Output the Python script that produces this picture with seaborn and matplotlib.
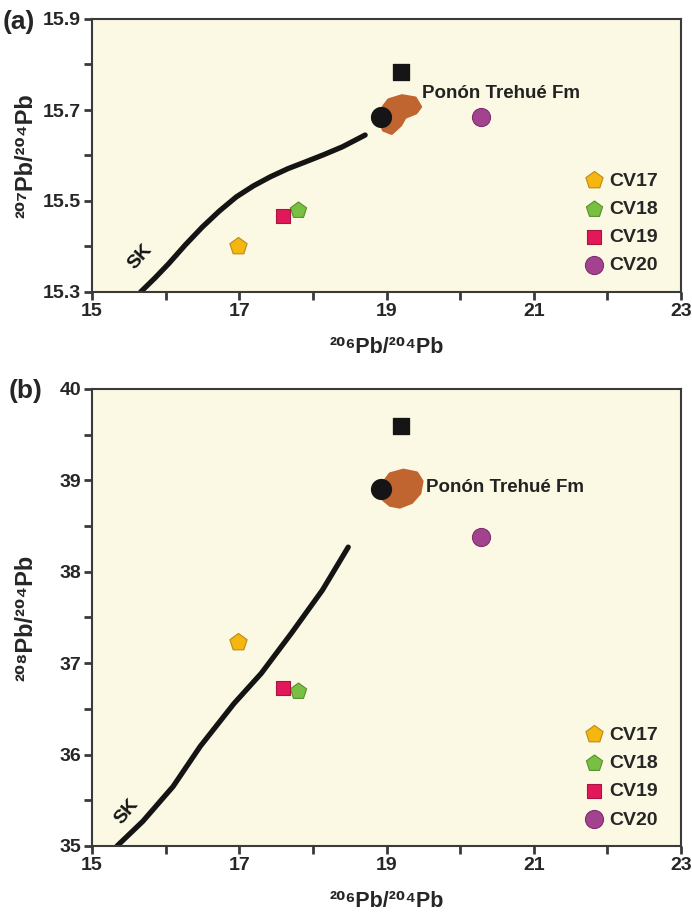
import numpy as np
import pandas as pd
import seaborn as sns
import matplotlib.pyplot as plt
from matplotlib.patches import Polygon
from matplotlib.ticker import FixedLocator, FormatStrFormatter

#sample names and their lead isotope ratios
SAMPLES = ['CV17', 'CV18', 'CV19', 'CV20']
PB206 = [16.98, 17.80, 17.60, 20.28]
PB207 = [15.400, 15.481, 15.466, 15.685]
PB208 = [37.23, 36.70, 36.73, 38.38]

#reference points (black square and black circle, not in legend)
SQ_206 = [19.20]
SQ_207 = [15.784]
SQ_208 = [39.59]
CIRC_206 = [18.92]
CIRC_207 = [15.685]
CIRC_208 = [38.91]

#Stacey & Kramers growth curve (SK)
SK_A_X = [15.66, 15.85, 16.04, 16.27, 16.50, 16.73, 16.96, 17.19, 17.42, 17.66, 17.90, 18.15, 18.40, 18.71]
SK_A_Y = [15.300, 15.330, 15.362, 15.404, 15.443, 15.478, 15.509, 15.533, 15.553, 15.571, 15.586, 15.602, 15.619, 15.645]
SK_B_X = [15.34, 15.69, 16.10, 16.47, 16.93, 17.30, 17.71, 18.13, 18.48]
SK_B_Y = [35.00, 35.27, 35.65, 36.09, 36.56, 36.89, 37.33, 37.80, 38.27]

#Ponón Trehué Fm field outlines
FIELD_A_X = [19.03, 19.21, 19.39, 19.46, 19.40, 19.25, 19.19, 19.07, 18.96, 18.91, 18.96]
FIELD_A_Y = [15.722, 15.731, 15.726, 15.707, 15.694, 15.684, 15.667, 15.649, 15.656, 15.682, 15.707]
FIELD_B_X = [18.96, 18.94, 19.05, 19.23, 19.41, 19.48, 19.45, 19.34, 19.18, 19.05]
FIELD_B_Y = [38.79, 38.95, 39.07, 39.11, 39.08, 38.99, 38.86, 38.76, 38.71, 38.73]

#axis ticks
X_MAJOR = [15, 17, 19, 21, 23]
X_MINOR = [16, 18, 20, 22]
YA_MAJOR = [15.3, 15.5, 15.7, 15.9]
YA_MINOR = [15.4, 15.6, 15.8]
YB_MAJOR = [35, 36, 37, 38, 39, 40]
YB_MINOR = [35.5, 36.5, 37.5, 38.5, 39.5]

#marker styling per sample
MARKERS = {'CV17': 'p', 'CV18': 'p', 'CV19': 's', 'CV20': 'o'}
SIZES = {'CV17': 170, 'CV18': 150, 'CV19': 95, 'CV20': 170}
COLORS = {'CV17': '#F5B70F', 'CV18': '#79BF42', 'CV19': '#E1195A', 'CV20': '#A3438F'}
EDGES = {'CV17': '#B98A1A', 'CV18': '#56902E', 'CV19': '#A8153F', 'CV20': '#7E2F6E'}

BG = '#FBF9E3'
FIELD_COLOR = '#C0652F'

sns.set_style('ticks')
plt.rcParams['font.family'] = ['Liberation Sans', 'DejaVu Sans']
plt.rcParams['font.weight'] = 'bold'
plt.rcParams['axes.labelweight'] = 'bold'


def draw_panel(ax, yvals, sq_y, circ_y, sk_x, sk_y, fx, fy, sk_text, label_xy, ylim,
               ymaj, ymin, yfmt, ylabel):
    ax.set_facecolor(BG)

    #growth curve
    sns.lineplot(x=sk_x, y=sk_y, sort=False, estimator=None, color='#141414',
                 linewidth=3.8, ax=ax, zorder=2)

    #formation field
    ax.add_patch(Polygon(np.column_stack([fx, fy]), closed=True, facecolor=FIELD_COLOR,
                         edgecolor=FIELD_COLOR, linewidth=2.5, joinstyle='round', zorder=3))

    #reference points
    sns.scatterplot(x=SQ_206, y=sq_y, marker='s', s=140, color='#151515', edgecolor='#151515',
                    ax=ax, zorder=4)
    sns.scatterplot(x=CIRC_206, y=circ_y, marker='o', s=200, color='#151515', edgecolor='#151515',
                    ax=ax, zorder=4)

    #samples
    for i, name in enumerate(SAMPLES):
        sns.scatterplot(x=[PB206[i]], y=[yvals[i]], marker=MARKERS[name], s=SIZES[name],
                        color=COLORS[name], edgecolor=EDGES[name], linewidth=0.8,
                        label=name, ax=ax, zorder=5)

    ax.text(label_xy[0], label_xy[1], 'Ponón Trehué Fm', fontsize=13.5, color='#222222',
            va='center', ha='left', zorder=6)
    ax.text(sk_text[0], sk_text[1], 'SK', fontsize=14, color='#141414', rotation=sk_text[2],
            ha='center', va='center', zorder=6)

    ax.set_xlim(15, 23)
    ax.set_ylim(*ylim)
    ax.xaxis.set_major_locator(FixedLocator(X_MAJOR))
    ax.xaxis.set_minor_locator(FixedLocator(X_MINOR))
    ax.yaxis.set_major_locator(FixedLocator(ymaj))
    ax.yaxis.set_minor_locator(FixedLocator(ymin))
    ax.yaxis.set_major_formatter(FormatStrFormatter(yfmt))
    ax.tick_params(which='both', direction='out', length=6, width=2, color='#3a3a3a',
                   labelsize=14, pad=2)

    for sp in ax.spines.values():
        sp.set_visible(True)
        sp.set_color('#3a3a3a')
        sp.set_linewidth(1.5)

    ax.set_xlabel('²⁰⁶Pb/²⁰⁴Pb', fontsize=15.5)
    ax.set_ylabel(ylabel, fontsize=17)

    ax.legend(loc='lower right', bbox_to_anchor=(1 - 5 / 589, 0), frameon=False, fontsize=14,
              handletextpad=0.2, labelspacing=0.55, borderaxespad=0.5, handlelength=1.2)


fig = plt.figure(figsize=(6.92, 9.21), dpi=100)
fig.patch.set_facecolor('white')

ax_a = fig.add_axes([92 / 692, 1 - 292 / 921, 589 / 692, 273 / 921])
ax_b = fig.add_axes([92 / 692, 1 - 846 / 921, 589 / 692, 457 / 921])

draw_panel(ax_a, PB207, SQ_207, CIRC_207, SK_A_X, SK_A_Y, FIELD_A_X, FIELD_A_Y,
           (15.66, 15.378, 48), (19.48, 15.737), (15.3, 15.9), YA_MAJOR, YA_MINOR, '%.1f',
           '²⁰⁷Pb/²⁰⁴Pb')
draw_panel(ax_b, PB208, SQ_208, CIRC_208, SK_B_X, SK_B_Y, FIELD_B_X, FIELD_B_Y,
           (15.47, 35.37, 50), (19.54, 38.92), (35, 40), YB_MAJOR, YB_MINOR, '%d',
           '²⁰⁸Pb/²⁰⁴Pb')

ax_a.xaxis.set_label_coords(0.5, -0.165)
ax_b.xaxis.set_label_coords(0.5, -0.098)
ax_a.yaxis.set_label_coords(-0.092, 0.5)
ax_b.yaxis.set_label_coords(-0.092, 0.5)

fig.text(3 / 692, 1 - 22 / 921, '(a)', fontsize=19, va='center', ha='left')
fig.text(9 / 692, 1 - 391 / 921, '(b)', fontsize=19, va='center', ha='left')

fig.savefig('out.png', dpi=100)
